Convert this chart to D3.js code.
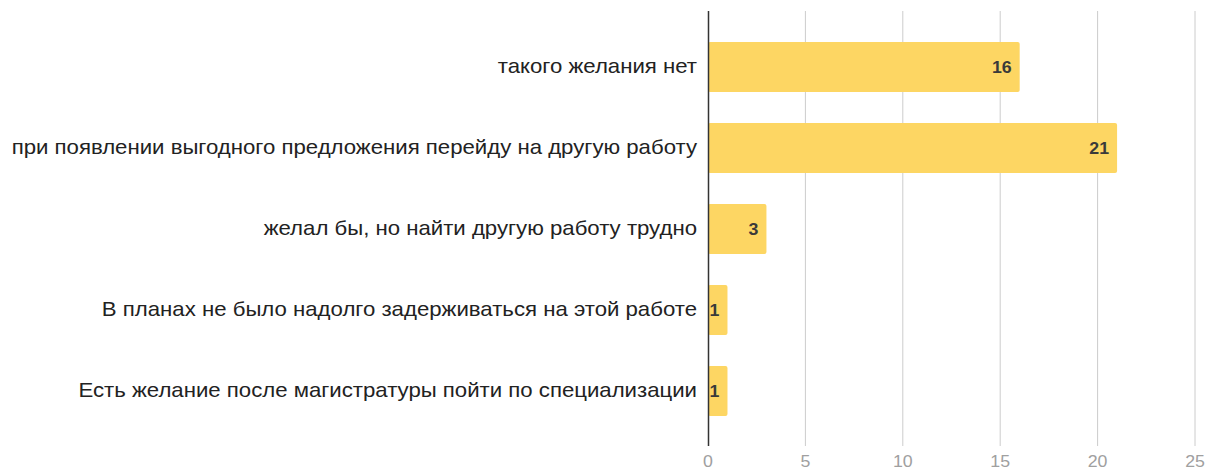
<!DOCTYPE html>
<html>
<head>
<meta charset="utf-8">
<style>
body { margin: 0; background: #fff; }
svg text { font-family: "Liberation Sans", Arial, sans-serif; }
</style>
</head>
<body>
<div id="chart"></div>
<script src="https://d3js.org/d3.v7.min.js"></script>
<script>
var categories = [
    "такого желания нет",
    "при появлении выгодного предложения перейду на другую работу",
    "желал бы, но найти другую работу трудно",
    "В планах не было надолго задерживаться на этой работе",
    "Есть желание после магистратуры пойти по специализации"
];
var values = [16, 21, 3, 1, 1];
var ticks = [0, 5, 10, 15, 20, 25];

var width = 1210, height = 472;
// the source picture is a little stretched sideways, so text is widened too
var stretch = 1.11;

var svg = d3.select("#chart").append("svg")
    .attr("width", width).attr("height", height);

var x = d3.scaleLinear().domain([0, 25]).range([708, 1195]);
var y = d3.scaleBand().domain(categories).range([26.5, 431.5]).paddingInner(0.38).paddingOuter(0.19);

// gridlines
svg.append("g").selectAll("line").data(ticks.slice(1)).enter().append("line")
    .attr("x1", function (d) { return x(d); })
    .attr("x2", function (d) { return x(d); })
    .attr("y1", 11).attr("y2", 446)
    .attr("stroke", "#cccccc").attr("stroke-width", 1);

// tick labels
svg.append("g").selectAll("text").data(ticks).enter().append("text")
    .attr("transform", function (d) { return "translate(" + x(d) + ",467) scale(" + stretch + ",1)"; })
    .attr("text-anchor", "middle")
    .style("font-size", "16px")
    .style("fill", "#a0a0a0")
    .text(function (d) { return d; });

// bars
svg.append("g").selectAll("rect").data(values).enter().append("rect")
    .attr("x", x(0))
    .attr("y", function (d, i) { return y(categories[i]); })
    .attr("width", function (d) { return x(d) - x(0); })
    .attr("height", y.bandwidth())
    .attr("rx", 2)
    .attr("fill", "#fdd663");

// value labels
svg.append("g").selectAll("text").data(values).enter().append("text")
    .attr("transform", function (d, i) {
        return "translate(" + (x(d) - 8) + "," + (y(categories[i]) + y.bandwidth() / 2 + 6) + ") scale(" + stretch + ",1)";
    })
    .attr("text-anchor", "end")
    .style("font-size", "16px")
    .style("font-weight", "bold")
    .style("fill", "#3a3a3a")
    .text(function (d) { return d; });

// category labels
svg.append("g").selectAll("text").data(categories).enter().append("text")
    .attr("transform", function (d) {
        return "translate(697," + (y(d) + y.bandwidth() / 2 + 6) + ") scale(" + stretch + ",1)";
    })
    .attr("text-anchor", "end")
    .style("font-size", "20px")
    .style("fill", "#222222")
    .text(function (d) { return d; });

// axis line
svg.append("line")
    .attr("x1", x(0) + 0.5).attr("x2", x(0) + 0.5)
    .attr("y1", 11).attr("y2", 446)
    .attr("stroke", "#333333").attr("stroke-width", 1.5);
</script>
</body>
</html>
